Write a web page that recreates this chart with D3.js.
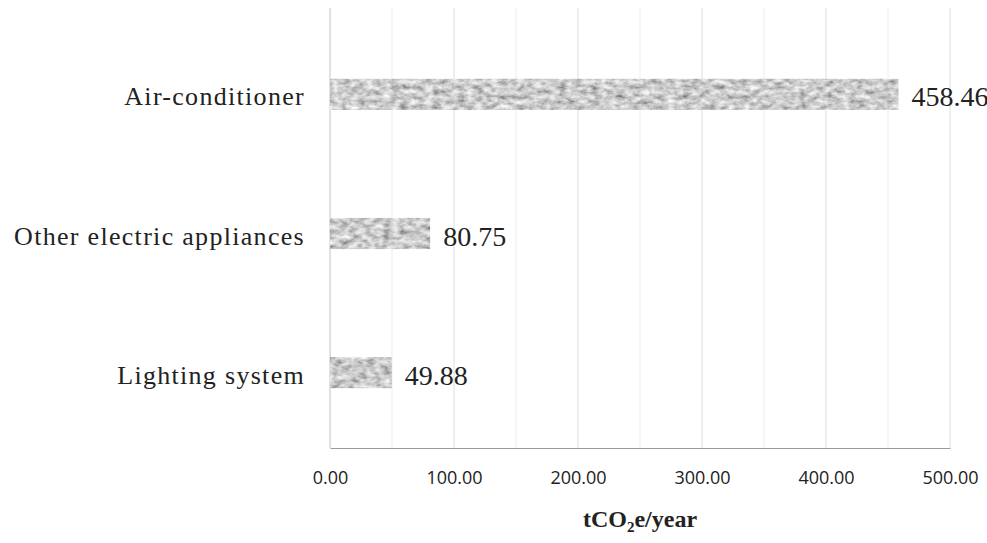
<!DOCTYPE html>
<html>
<head>
<meta charset="utf-8">
<script src="https://cdn.jsdelivr.net/npm/d3@7/dist/d3.min.js"></script>
<style>
  html, body { margin: 0; padding: 0; background: #fff; }
  svg { display: block; }
</style>
</head>
<body>
<svg id="chart" width="987" height="543"></svg>
<script>
// Annual emissions by end use (tCO2e/year)
const categories = ["Air-conditioner", "Other electric appliances", "Lighting system"];
const values = [458.46, 80.75, 49.88];
const tickValues = [0, 100, 200, 300, 400, 500];
const tickLabels = ["0.00", "100.00", "200.00", "300.00", "400.00", "500.00"];

const svg = d3.select("#chart");
const plot = { left: 330, right: 950, top: 24, bottom: 448 };

const x = d3.scaleLinear().domain([0, 500]).range([plot.left, plot.right]);
const y = d3.scaleBand().domain(categories).range([plot.top, 443])
  .paddingInner(0.776).paddingOuter(0.394);

// Mottled grey texture for the bars
const defs = svg.append("defs");
const f = defs.append("filter").attr("id", "grain")
  .attr("x", 0).attr("y", 0).attr("width", 1).attr("height", 1);
f.append("feTurbulence").attr("type", "fractalNoise")
  .attr("baseFrequency", "0.12 0.2").attr("numOctaves", 4).attr("seed", 11).attr("result", "noise");
f.append("feColorMatrix").attr("in", "noise").attr("type", "matrix")
  .attr("values", "1.0 0 0 0 0.1  1.0 0 0 0 0.1  1.0 0 0 0 0.1  0 0 0 0 1")
  .attr("result", "grey");
f.append("feComposite").attr("in", "grey").attr("in2", "SourceGraphic").attr("operator", "in");

// Vertical gridlines
const minor = d3.range(50, 500, 50).filter(v => v % 100 !== 0);
svg.append("g").selectAll("line").data(minor).join("line")
  .attr("x1", d => x(d)).attr("x2", d => x(d))
  .attr("y1", 8).attr("y2", plot.bottom)
  .attr("stroke", "#ededed").attr("stroke-width", 1);
svg.append("g").selectAll("line").data(tickValues).join("line")
  .attr("x1", d => x(d)).attr("x2", d => x(d))
  .attr("y1", 8).attr("y2", plot.bottom)
  .attr("stroke", d => d === 0 ? "#c4c4c4" : "#dddddd").attr("stroke-width", 1);

// X axis
const xAxis = d3.axisBottom(x).tickValues(tickValues).tickSize(0)
  .tickFormat((d, i) => tickLabels[i]);
const gx = svg.append("g").attr("transform", `translate(0,${plot.bottom})`).call(xAxis);
gx.select(".domain").attr("stroke", "#9a9a9a").attr("stroke-width", 1.2);
gx.selectAll("text")
  .attr("dy", "0")
  .attr("y", 36)
  .attr("fill", "#222")
  .style("font-family", "'Open Sans', sans-serif")
  .style("font-size", "18px");

// Bars
svg.append("g").selectAll("rect").data(values).join("rect")
  .attr("x", x(0))
  .attr("y", (d, i) => y(categories[i]))
  .attr("width", d => x(d) - x(0))
  .attr("height", y.bandwidth())
  .attr("fill", "#aaaaaa")
  .attr("filter", "url(#grain)");

// Category labels
svg.append("g").selectAll("text").data(categories).join("text")
  .attr("x", 305)
  .attr("y", d => y(d) + y.bandwidth() / 2 + 2)
  .attr("dy", "0.35em")
  .attr("text-anchor", "end")
  .attr("fill", "#222")
  .style("font-family", "'Liberation Serif', 'Times New Roman', serif")
  .style("font-size", "26px")
  .style("letter-spacing", "1.3px")
  .text(d => d);

// Value labels
svg.append("g").selectAll("text").data(values).join("text")
  .attr("x", d => x(d) + 13)
  .attr("y", (d, i) => y(categories[i]) + y.bandwidth() / 2 + 2)
  .attr("dy", "0.36em")
  .attr("fill", "#222")
  .style("font-family", "'Liberation Serif', 'Times New Roman', serif")
  .style("font-size", "28px")
  .text(d => d.toFixed(2));

// Axis title
const title = svg.append("text")
  .attr("x", 640).attr("y", 527)
  .attr("text-anchor", "middle")
  .attr("fill", "#222")
  .style("font-family", "'Liberation Serif', 'Times New Roman', serif")
  .style("font-size", "24px")
  .style("font-weight", "bold");
title.append("tspan").text("tCO");
title.append("tspan").attr("dy", 5).style("font-size", "15px").text("2");
title.append("tspan").attr("dy", -5).text("e/year");
</script>
</body>
</html>
